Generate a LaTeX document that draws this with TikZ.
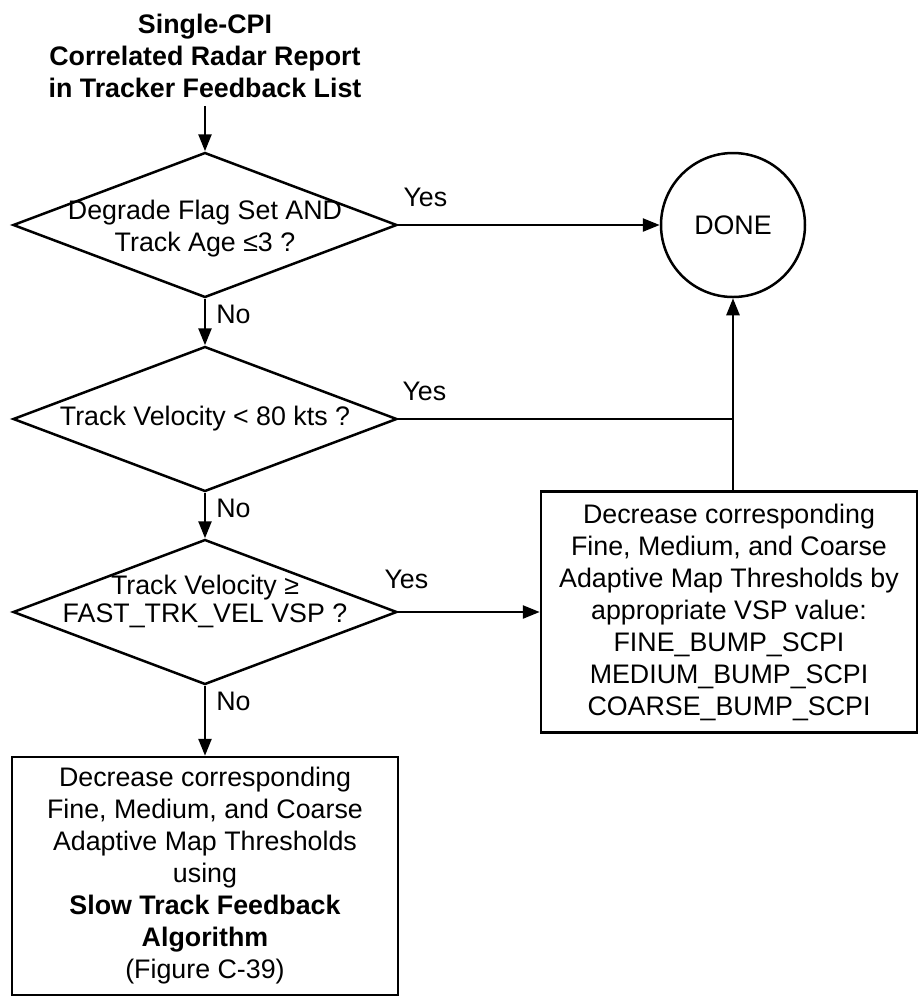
\documentclass[tikz,border=0pt]{standalone}
\usepackage{fontspec}
\setmainfont{Liberation Sans}
\usetikzlibrary{shapes.geometric,arrows.meta}

\begin{document}
\begin{tikzpicture}[x=0.5pt, y=-0.5pt, line width=1.25pt, >={Triangle[length=8.5pt,width=6.5pt]},
    font=\fontsize{13.4}{16}\selectfont,
    decision/.style={diamond, draw, minimum width=192pt, minimum height=72.5pt, inner sep=0pt},
    action/.style={rectangle, draw, align=center, inner sep=0pt},
    lbl/.style={inner sep=0pt}]
    \useasboundingbox (0,0) rectangle (920,998);
    % Input report
    \node[align=center, font=\fontsize{13.4}{16}\selectfont\bfseries] (start) at (205,56) {Single-CPI\\Correlated Radar Report\\in Tracker Feedback List};
    % Decisions
    \node[decision] (d1) at (205,225) {};
    \node[align=center] (q1) at (205,229) {Degrade Flag Set AND\\Track Age ≤3 ?};
    \node[decision] (d2) at (205,419) {};
    \node (q2) at (205,419) {Track Velocity < 80 kts ?};
    \node[decision] (d3) at (205,612) {};
    \node[align=center] (q3) at (205,601) {Track Velocity ≥\\[-2pt]FAST\_TRK\_VEL VSP ?};
    % End and actions
    \node[circle, draw, minimum size=72pt, inner sep=0pt] (done) at (733,225) {DONE};
    \node[action, minimum width=188pt, minimum height=120.5pt] (fast) at (729,612) {Decrease corresponding\\Fine, Medium, and Coarse\\Adaptive Map Thresholds by\\appropriate VSP value:\\FINE\_BUMP\_SCPI\\MEDIUM\_BUMP\_SCPI\\COARSE\_BUMP\_SCPI};
    \node[action, minimum width=193pt, minimum height=119pt] (slow) at (205,876) {Decrease corresponding\\Fine, Medium, and Coarse\\Adaptive Map Thresholds\\using\\\textbf{Slow Track Feedback}\\\textbf{Algorithm}\\(Figure C-39)};
    % Flow
    \draw[->] (start) -- (d1);
    \draw[->] (d1.east) -- node[lbl, at start, anchor=south west, xshift=2pt, yshift=8.5pt] {Yes} (done.west);
    \draw[->] (d1.south) -- node[lbl, at start, anchor=north west, xshift=5pt, yshift=-2.75pt] {No} (d2.north);
    \draw (d2.east) -- node[lbl, at start, anchor=south west, xshift=1.5pt, yshift=8.5pt] {Yes} (d2.east -| done.south);
    \draw[->] (d2.south) -- node[lbl, at start, anchor=north west, xshift=5pt, yshift=-2.75pt] {No} (d3.north);
    \draw[->] (d3.east) -- node[lbl, at start, anchor=south west, xshift=-7.5pt, yshift=11pt] {Yes} (fast.west);
    \draw[->] (d3.south) -- node[lbl, at start, anchor=north west, xshift=5pt, yshift=-2.75pt] {No} (slow.north);
    \draw[->] (fast.north -| done.south) -- (done.south);
\end{tikzpicture}
\end{document}
